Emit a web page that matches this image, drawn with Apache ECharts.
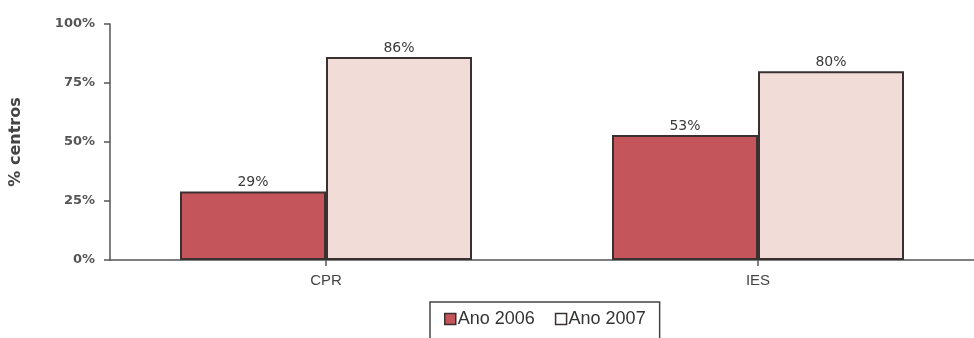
<!DOCTYPE html>
<html>
<head>
<meta charset="utf-8">
<script src="https://cdn.jsdelivr.net/npm/echarts@6/dist/echarts.min.js"></script>
<style>
  html, body { margin: 0; padding: 0; background: #fff; }
  #chart { width: 974px; height: 338px; }
</style>
</head>
<body>
<div id="chart"></div>
<script>
// categorias e valores
const categories = ['CPR', 'IES'];
const seriesNames = ['Ano 2006', 'Ano 2007'];
const values2006 = [29, 53];
const values2007 = [86, 80];
const yTicks = [0, 25, 50, 75, 100];

const colors = ['#c4555b', '#f1dcd7'];

const chart = echarts.init(document.getElementById('chart'));

const barLabel = {
    show: true,
    position: 'top',
    distance: 2,
    formatter: '{c}%',
    color: '#3a3a3a',
    fontFamily: 'DejaVu Sans, sans-serif',
    fontSize: 14
};

const option = {
    animation: false,
    grid: {
        left: 109,
        top: 24,
        width: 870,
        height: 236,
        containLabel: false
    },
    legend: {
        data: [
            { name: seriesNames[0] },
            { name: seriesNames[1], itemStyle: { color: '#fff' } }
        ],
        left: 430,
        top: 302,
        padding: [8, 14, 20, 14],
        borderColor: '#444',
        borderWidth: 1.5,
        itemWidth: 11,
        itemHeight: 11,
        itemGap: 20,
        icon: 'rect',
        itemStyle: { borderWidth: 1.5, borderColor: '#3a3030' },
        textStyle: {
            color: '#333',
            fontFamily: 'Liberation Sans, Arial, sans-serif',
            fontSize: 18,
            padding: [0, 0, 0, -3]
        }
    },
    xAxis: {
        type: 'category',
        data: categories,
        axisLine: { lineStyle: { color: '#555', width: 1.5 } },
        axisTick: { show: true, alignWithLabel: true, length: 6, lineStyle: { color: '#555', width: 1.5 } },
        axisLabel: {
            color: '#444',
            fontFamily: 'Liberation Sans, Arial, sans-serif',
            fontSize: 15,
            margin: 13
        }
    },
    yAxis: {
        type: 'value',
        min: 0,
        max: 100,
        interval: 25,
        name: '% centros',
        nameLocation: 'middle',
        nameGap: 86,
        nameRotate: 90,
        nameTextStyle: {
            color: '#444',
            fontFamily: 'DejaVu Sans, sans-serif',
            fontWeight: 'bold',
            fontSize: 16
        },
        axisLine: { show: true, lineStyle: { color: '#555', width: 1.5 } },
        axisTick: { show: true, length: 6, lineStyle: { color: '#555', width: 1.5 } },
        splitLine: { show: false },
        axisLabel: {
            color: '#555',
            fontFamily: 'DejaVu Sans, sans-serif',
            fontWeight: 'bold',
            fontSize: 13,
            margin: 15,
            formatter: function (v) {
                return yTicks.indexOf(v) >= 0 ? v + '%' : '';
            }
        }
    },
    series: [
        {
            name: seriesNames[0],
            type: 'bar',
            data: values2006,
            barWidth: 146,
            barGap: '0%',
            itemStyle: { color: colors[0], borderColor: '#3a3030', borderWidth: 2 },
            label: barLabel
        },
        {
            name: seriesNames[1],
            type: 'bar',
            data: values2007,
            barWidth: 146,
            barGap: '0%',
            itemStyle: { color: colors[1], borderColor: '#3a3030', borderWidth: 2 },
            label: barLabel
        }
    ]
};

chart.setOption(option);
</script>
</body>
</html>
